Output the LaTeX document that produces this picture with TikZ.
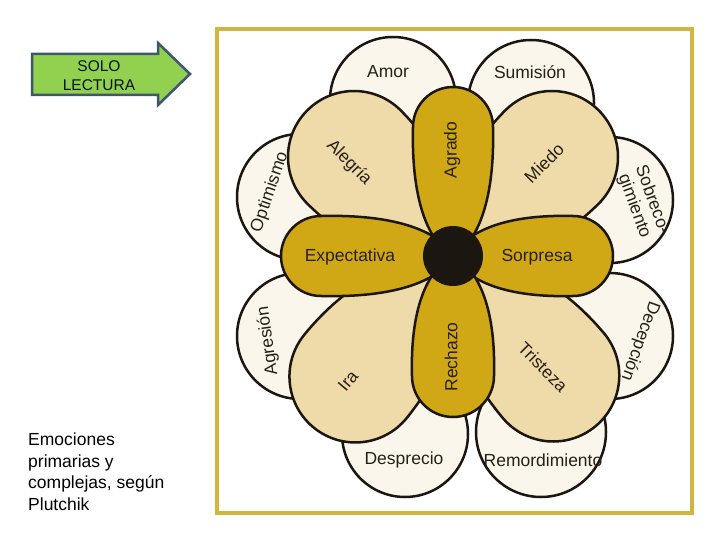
\documentclass[tikz,border=0pt]{standalone}
\usepackage{fontspec}
\setmainfont{Liberation Sans}
\definecolor{oro}{RGB}{208,168,22}
\definecolor{tostado}{RGB}{239,219,170}
\definecolor{crema}{RGB}{250,246,236}
\definecolor{linea}{RGB}{28,22,16}
\definecolor{marco}{RGB}{208,182,62}
\definecolor{verde}{RGB}{146,208,80}
\definecolor{azulgris}{RGB}{62,86,110}
\definecolor{letra}{RGB}{40,32,24}

\begin{document}
\begin{tikzpicture}[x=1pt, y=-1pt,
  terc/.style={draw=linea, fill=crema, line width=2.5pt},
  sec/.style={draw=linea, fill=tostado, line width=2.5pt},
  prim/.style={draw=linea, fill=oro, line width=2.5pt},
  disco/.style={circle, fill=linea, minimum size=60pt, inner sep=0pt},
  etiq/.style={text=letra, font=\fontsize{17.5}{19}\selectfont, inner sep=0pt, align=center},
  aviso/.style={text=black!85!teal, font=\fontsize{15.5}{19}\selectfont, inner sep=0pt, align=center},
  pie/.style={text=black, font=\fontsize{17.5}{21.7}\selectfont, inner sep=0pt, align=left}]
\useasboundingbox (0,0) rectangle (720,540);

% flecha y texto de la izquierda
\draw[fill=verde, draw=azulgris, line width=2.5pt, line join=miter] (32,54) -- (158,54) -- (158,43) -- (190,74) -- (158,105) -- (158,95) -- (32,95) -- cycle;
\node[aviso] (solo) at (99,75.5) {SOLO\\LECTURA};
\node[pie, anchor=north west] (pie) at (28,432.5) {Emociones\\primarias y\\complejas, según\\Plutchik};

% marco
\draw[marco, line width=3.5pt, fill=white] (217,29) rectangle (692,513);

% emociones complejas
\draw[terc] (393,100) circle[radius=63];
\draw[terc] (531,103) circle[radius=63];
\draw[terc] (610,200) circle[radius=63];
\draw[terc] (610,336) circle[radius=63];
\draw[terc] (541,432) circle[radius=65];
\draw[terc] (405,434) circle[radius=63];
\draw[terc] (300,336) circle[radius=63];
\draw[terc] (300,197) circle[radius=63];

\begin{scope}[shift={(453,256)}]
% emociones secundarias
\draw[sec, rotate=135] (0,0) .. controls (28,40) and (77,66) .. (140,66) arc[start angle=90, end angle=-90, radius=66] .. controls (77,-66) and (28,-40) .. cycle;
\draw[sec, rotate=45] (0,0) .. controls (28,40) and (77,66) .. (140,66) arc[start angle=90, end angle=-90, radius=66] .. controls (77,-66) and (28,-40) .. cycle;
\draw[sec, rotate=231] (0,0) .. controls (31,40) and (85,66) .. (155,66) arc[start angle=90, end angle=-90, radius=66] .. controls (85,-66) and (31,-40) .. cycle;
\draw[sec, rotate=-50] (0,0) .. controls (31,40) and (85,66) .. (156,66) arc[start angle=90, end angle=-90, radius=66] .. controls (85,-66) and (31,-40) .. cycle;

% emociones primarias
\draw[prim, rotate=90] (0,0) .. controls (12,22) and (50,42) .. (129,40) arc[start angle=90, end angle=-90, radius=40] .. controls (50,-42) and (12,-22) .. cycle;
\draw[prim, rotate=180] (0,0) .. controls (12,22) and (51,42) .. (132,40) arc[start angle=90, end angle=-90, radius=40] .. controls (51,-42) and (12,-22) .. cycle;
\draw[prim, rotate=0] (0,0) .. controls (12,22) and (47,42) .. (120,40) arc[start angle=90, end angle=-90, radius=40] .. controls (47,-42) and (12,-22) .. cycle;
\draw[prim, rotate=-90] (0,0) .. controls (12,23) and (47,43) .. (120,41) arc[start angle=90, end angle=-90, radius=41] .. controls (47,-43) and (12,-23) .. cycle;
\end{scope}

\node[disco] (centro) at (453,256) {};

% nombres
\node[etiq] (amor) at (388,72) {Amor};
\node[etiq] (sumision) at (530,72) {Sumisión};
\node[etiq, rotate=90] (agrado) at (452,150) {Agrado};
\node[etiq, rotate=-45] (alegria) at (349,163) {Alegría};
\node[etiq, rotate=45] (miedo) at (544,163) {Miedo};
\node[etiq, rotate=71] (optimismo) at (270,192) {Optimismo};
\node[etiq, rotate=-70] (sobrecog) at (643,203) {Sobreco-\\gimiento};
\node[etiq] (expectativa) at (350,257) {Expectativa};
\node[etiq] (sorpresa) at (537,257) {Sorpresa};
\node[etiq, rotate=98] (agresion) at (268,341) {Agresión};
\node[etiq, rotate=-110] (decepcion) at (640,341) {Decepción};
\node[etiq, rotate=50] (ira) at (348,381) {Ira};
\node[etiq, rotate=90] (rechazo) at (451,357) {Rechazo};
\node[etiq, rotate=-45] (tristeza) at (543,367) {Tristeza};
\node[etiq] (desprecio) at (404,460) {Desprecio};
\node[etiq] (remord) at (543,460) {Remordimiento};
\end{tikzpicture}
\end{document}
